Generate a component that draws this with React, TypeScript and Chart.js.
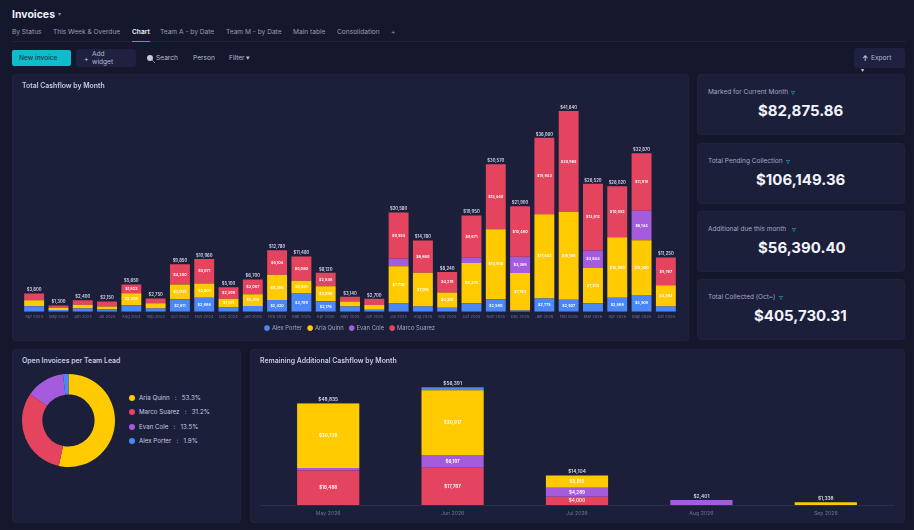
import React, { useEffect, useRef } from 'react';
import { Chart, registerables } from 'chart.js';

Chart.register(...registerables);

const FONT = 'Inter, "Noto Sans", sans-serif';
const BLUE = '#4a88f8';
const YELLOW = '#ffcb00';
const PURPLE = '#a55cdc';
const RED = '#e5445f';

const months = [
  'Apr 2024', 'May 2024', 'Jun 2024', 'Jul 2024', 'Aug 2024', 'Sep 2024', 'Oct 2024', 'Nov 2024', 'Dec 2024',
  'Jan 2025', 'Feb 2025', 'Mar 2025', 'Apr 2025', 'May 2025', 'Jun 2025', 'Jul 2025', 'Aug 2025', 'Sep 2025',
  'Oct 2025', 'Nov 2025', 'Dec 2025', 'Jan 2026', 'Feb 2026', 'Mar 2026', 'Apr 2026', 'May 2026', 'Jun 2026',
];
const alexPorter = [1150, 350, 680, 550, 1370, 690, 2611, 2888, 890, 1200, 2420, 3789, 2176, 1080, 430, 1720, 1084, 820, 1750, 2580, 269, 2775, 2507, 1790, 2888, 3508, 1100];
const ariaQuinn = [1220, 500, 800, 550, 2458, 1080, 3039, 3001, 1811, 2413, 5256, 2631, 3096, 1030, 970, 7726, 7016, 3201, 8375, 14550, 7763, 17442, 18168, 7274, 12580, 11300, 4383];
const evanCole = [0, 0, 0, 0, 0, 0, 0, 0, 0, 0, 0, 0, 0, 0, 0, 1581, 0, 0, 1154, 0, 3388, 0, 0, 3644, 0, 6144, 0];
const marcoSuarez = [1430, 450, 920, 1050, 1822, 980, 4200, 5071, 2399, 3087, 5104, 5060, 2848, 1030, 1300, 9553, 6680, 4219, 8671, 13440, 10480, 15843, 20965, 13812, 10552, 11918, 5767];

const teamLeads = ['Aria Quinn', 'Marco Suarez', 'Evan Cole', 'Alex Porter'];
const teamShares = [53.3, 31.2, 13.5, 1.9];
const teamColors = [YELLOW, RED, PURPLE, BLUE];

const remainingMonths = ['May 2026', 'Jun 2026', 'Jul 2026', 'Aug 2026', 'Sep 2026'];
const remainingMarco = [16488, 17787, 4000, 0, 0];
const remainingEvan = [1219, 6197, 4289, 2401, 0];
const remainingAria = [30728, 30917, 5815, 0, 1338];
const remainingAlex = [400, 1490, 0, 0, 0];

const tabs = ['By Status', 'This Week & Overdue', 'Chart', 'Team A - by Date', 'Team M - by Date', 'Main table', 'Consolidation', '+'];
const kpiTitles = ['Marked for Current Month', 'Total Pending Collection', 'Additional due this month', 'Total Collected (Oct~)'];
const kpiValues = ['$82,875.86', '$106,149.36', '$56,390.40', '$405,730.31'];

const money = (v: number) => '$' + v.toLocaleString('en-US');

// writes the segment values and the stack totals on the bars
const valueLabels = (minValue: number, innerSize: number, totalSize: number) => ({
  id: 'valueLabels',
  afterDatasetsDraw(chart: any) {
    const { ctx, scales } = chart;
    ctx.save();
    ctx.textAlign = 'center';
    ctx.textBaseline = 'middle';
    const totals: number[] = [];
    chart.data.datasets.forEach((ds: any, d: number) => {
      const bars = chart.getDatasetMeta(d).data;
      ds.data.forEach((v: number, i: number) => {
        totals[i] = (totals[i] || 0) + v;
        if (v < minValue) return;
        ctx.font = `600 ${innerSize}px ${FONT}`;
        ctx.fillStyle = '#ffffff';
        ctx.fillText(money(v), bars[i].x, (bars[i].y + bars[i].base) / 2);
      });
    });
    const firstBars = chart.getDatasetMeta(0).data;
    ctx.font = `600 ${totalSize}px ${FONT}`;
    ctx.fillStyle = '#d5d7ea';
    totals.forEach((t, i) => {
      ctx.fillText(money(t), firstBars[i].x, scales.y.getPixelForValue(t) - totalSize * 0.8);
    });
    ctx.restore();
  },
});

// axis line of the lower chart runs a little past the plot
const baseLine = {
  id: 'baseLine',
  beforeDatasetsDraw(chart: any) {
    const { ctx, chartArea } = chart;
    ctx.save();
    ctx.strokeStyle = '#2a2e4d';
    ctx.beginPath();
    ctx.moveTo(chartArea.left - 6, chartArea.bottom + 0.5);
    ctx.lineTo(chartArea.right + 6, chartArea.bottom + 0.5);
    ctx.stroke();
    ctx.restore();
  },
};

const useChart = (build: (canvas: HTMLCanvasElement) => Chart) => {
  const ref = useRef<HTMLCanvasElement>(null);
  useEffect(() => {
    if (!ref.current) return;
    const chart = build(ref.current);
    return () => chart.destroy();
  }, []);
  return ref;
};

const CashflowChart = () => {
  const ref = useChart((canvas) => new Chart(canvas, {
    type: 'bar',
    data: {
      labels: months,
      datasets: [
        { label: 'Alex Porter', data: alexPorter, backgroundColor: BLUE },
        { label: 'Aria Quinn', data: ariaQuinn, backgroundColor: YELLOW },
        { label: 'Evan Cole', data: evanCole, backgroundColor: PURPLE },
        { label: 'Marco Suarez', data: marcoSuarez, backgroundColor: RED },
      ],
    },
    options: {
      responsive: false,
      animation: false,
      layout: { padding: { left: 10, right: 11, top: 20.7, bottom: 0 } },
      datasets: { bar: { barPercentage: 0.82, categoryPercentage: 1 } },
      scales: {
        x: {
          stacked: true,
          grid: { display: false, drawTicks: false },
          border: { display: false },
          ticks: { color: '#6d7290', font: { size: 4, family: FONT }, maxRotation: 0, autoSkip: false, padding: 3 },
          afterFit: (s: any) => { s.height = 7.4; },
        },
        y: { stacked: true, display: false, min: 0, max: 45000 },
      },
      plugins: {
        tooltip: { enabled: false },
        legend: {
          position: 'bottom',
          labels: { color: '#a4a7c2', font: { size: 5.8, family: FONT }, usePointStyle: true, pointStyle: 'circle', boxWidth: 4, boxHeight: 4, padding: 6 },
        },
      },
    },
    plugins: [valueLabels(1800, 3.8, 4.2)],
  } as any));
  return <canvas ref={ref} width={677} height={267} style={{ position: 'absolute', left: 12, top: 74 }} />;
};

const TeamDoughnut = () => {
  const ref = useChart((canvas) => new Chart(canvas, {
    type: 'doughnut',
    data: {
      labels: teamLeads,
      datasets: [{ data: teamShares, backgroundColor: teamColors, borderWidth: 0 }],
    },
    options: {
      responsive: false,
      animation: false,
      cutout: '56%',
      plugins: { legend: { display: false }, tooltip: { enabled: false } },
    },
  } as any));
  return <canvas ref={ref} width={93} height={93} style={{ position: 'absolute', left: 22, top: 373.5 }} />;
};

const RemainingChart = () => {
  const ref = useChart((canvas) => new Chart(canvas, {
    type: 'bar',
    data: {
      labels: remainingMonths,
      datasets: [
        { label: 'Marco Suarez', data: remainingMarco, backgroundColor: RED },
        { label: 'Evan Cole', data: remainingEvan, backgroundColor: PURPLE },
        { label: 'Aria Quinn', data: remainingAria, backgroundColor: YELLOW },
        { label: 'Alex Porter', data: remainingAlex, backgroundColor: BLUE },
      ],
    },
    options: {
      responsive: false,
      animation: false,
      layout: { padding: { left: 16, right: 17, top: 30.7, bottom: 0 } },
      datasets: { bar: { barPercentage: 0.5, categoryPercentage: 1 } },
      scales: {
        x: {
          stacked: true,
          grid: { display: false, drawTicks: false },
          border: { display: false },
          ticks: { color: '#6d7290', font: { size: 5.2, family: FONT }, maxRotation: 0, padding: 5 },
          afterFit: (s: any) => { s.height = 18; },
        },
        y: { stacked: true, display: false, min: 0, max: 60000 },
      },
      plugins: { legend: { display: false }, tooltip: { enabled: false } },
    },
    plugins: [baseLine, valueLabels(3000, 4.6, 4.8)],
  } as any));
  return <canvas ref={ref} width={655} height={174} style={{ position: 'absolute', left: 250, top: 349 }} />;
};

const panel = (left: number, top: number, width: number, height: number): React.CSSProperties => ({
  position: 'absolute', left, top, width, height, background: '#1b1f3a', borderRadius: 4, border: '1px solid #1f2342', boxSizing: 'border-box',
});
const text = (left: number, top: number, size: number, color: string, weight = 400): React.CSSProperties => ({
  position: 'absolute', left, top, fontSize: size, color, fontWeight: weight, lineHeight: `${size + 2}px`, whiteSpace: 'nowrap',
});

const tabLefts = [12, 53, 132, 160, 226, 293, 337, 391];
const kpiTops = [74, 143, 211, 279];
const kpiValueLefts = [758, 756, 758, 754];
const kpiMarkLefts = [791, 786, 792, 779];
const legendTops = [394, 408, 423, 437];

export default function App() {
  return (
    <div style={{ position: 'fixed', inset: 0, overflow: 'hidden', background: '#15172c', fontFamily: FONT }}>
      <div style={text(12, 9, 10.5, '#eceef8', 700)}>Invoices</div>
      <div style={text(58, 10, 6, '#8e91ab')}>▾</div>
      {tabs.map((t, i) => (
        <div key={t} style={text(tabLefts[i], 28, 6.6, t === 'Chart' ? '#f0f1fa' : '#9a9cb5', t === 'Chart' ? 600 : 400)}>{t}</div>
      ))}
      <div style={{ position: 'absolute', left: 12, right: 8, top: 41, height: 1, background: '#1f2240' }} />
      <div style={{ position: 'absolute', left: 132, top: 41, width: 18, height: 1, background: '#13b6c4' }} />

      <div style={{ position: 'absolute', left: 12, top: 50, width: 59, height: 16, background: '#0fbccb', borderRadius: 2 }} />
      <div style={text(19, 53.5, 6.6, '#143a4c', 500)}>New invoice</div>
      <div style={{ position: 'absolute', left: 76, top: 49, width: 60, height: 18, background: '#1e2140', borderRadius: 3 }} />
      <div style={text(84, 54, 7, '#c9cbe0')}>+</div>
      <div style={{ ...text(92, 50, 6.6, '#b9bbd3'), lineHeight: '8px' }}>Add<br />widget</div>
      <svg width="9" height="9" style={{ position: 'absolute', left: 146, top: 54 }}>
        <circle cx="4" cy="4" r="3" fill="#c7cade" />
        <line x1="6" y1="6" x2="9" y2="9" stroke="#7d809c" />
      </svg>
      <div style={text(156, 54, 6.6, '#b9bbd3')}>Search</div>
      <div style={text(193, 53.5, 6.6, '#b9bbd3')}>Person</div>
      <div style={text(229, 54, 6.6, '#b9bbd3')}>Filter ▾</div>
      <div style={{ position: 'absolute', left: 854, top: 48, width: 51, height: 20, background: '#1e2140', borderRadius: 3 }} />
      <div style={text(862, 54, 7, '#c9cbe0', 700)}>↑</div>
      <div style={text(871, 54, 6.6, '#b9bbd3')}>Export</div>
      <div style={text(861, 66, 6, '#c9cbe0')}>▾</div>

      <div style={panel(12, 74, 677, 267)} />
      <CashflowChart />
      <div style={text(22, 82, 6.9, '#c9cbe0', 600)}>Total Cashflow by Month</div>

      {kpiTitles.map((t, i) => (
        <React.Fragment key={t}>
          <div style={panel(697, kpiTops[i], 208, 61)} />
          <div style={text(708, kpiTops[i] + 14, 6.5, '#a4a7c2')}>{t}</div>
          <div style={text(kpiMarkLefts[i], kpiTops[i] + 13, 8, '#13b6c4')}>▿</div>
          <div style={text(kpiValueLefts[i], kpiTops[i] + 28, 15, '#f2f3fb', 700)}>{kpiValues[i]}</div>
        </React.Fragment>
      ))}

      <div style={panel(12, 349, 229, 174)} />
      <TeamDoughnut />
      <div style={text(22, 357, 6.9, '#c9cbe0', 600)}>Open Invoices per Team Lead</div>
      {teamLeads.map((name, i) => (
        <React.Fragment key={name}>
          <div style={{ position: 'absolute', left: 129, top: legendTops[i] + 1, width: 6, height: 6, borderRadius: 3, background: teamColors[i] }} />
          <div style={{ ...text(139, legendTops[i], 6.2, '#c9cbe0'), whiteSpace: 'pre' }}>{`${name}   :   ${teamShares[i]}%`}</div>
        </React.Fragment>
      ))}

      <div style={panel(250, 349, 655, 174)} />
      <RemainingChart />
      <div style={text(260, 357, 6.9, '#c9cbe0', 600)}>Remaining Additional Cashflow by Month</div>
    </div>
  );
}
